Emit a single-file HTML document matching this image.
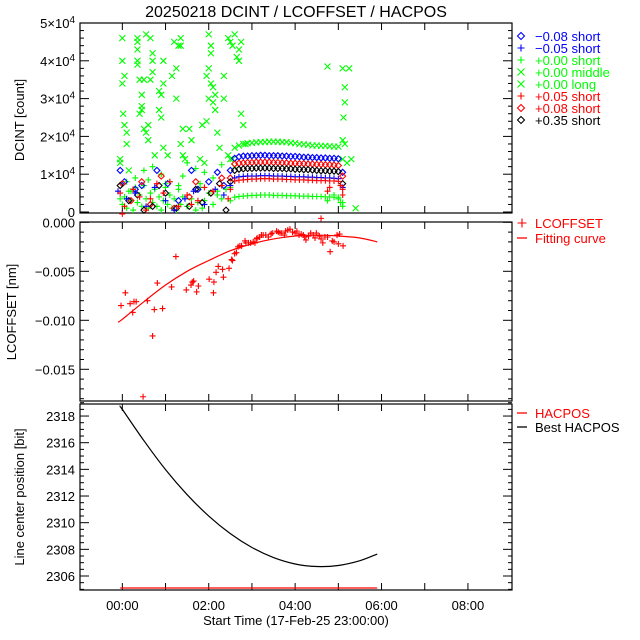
<!DOCTYPE html>
<html><head><meta charset="utf-8"><style>
body{margin:0;background:#fff}
svg{display:block;font-family:"Liberation Sans",sans-serif}
</style></head><body>
<svg id="chart" width="640" height="640" xmlns="http://www.w3.org/2000/svg">
<text x="296" y="17" font-size="16" text-anchor="middle">20250218 DCINT / LCOFFSET / HACPOS</text>
<text x="296" y="625" font-size="13" text-anchor="middle">Start Time (17-Feb-25 23:00:00)</text>
<text transform="translate(24,120) rotate(-90)" font-size="13" text-anchor="middle">DCINT [count]</text>
<text transform="translate(16,312) rotate(-90)" font-size="13" text-anchor="middle">LCOFFSET [nm]</text>
<text transform="translate(24,497) rotate(-90)" font-size="13" text-anchor="middle">Line center position [bit]</text>
</svg>
<script>
// ---------- data ----------
const xTickLabels = ["00:00","02:00","04:00","06:00","08:00"];
const xTickHours = [0,2,4,6,8];
const bandTimes = [2.5,2.6,2.7,2.8,2.9,3.0,3.1,3.2,3.3,3.4,3.5,3.6,3.7,3.8,3.9,4.0,4.1,4.2,4.3,4.4,4.5,4.6,4.7,4.8,4.9,5.0,5.1];
const greenTopBand = [14000,17000,17600,18000,18200,18300,18400,18500,18500,18600,18600,18600,18500,18500,18300,18200,18000,17900,17800,17600,17600,17500,17500,17400,17300,17300,14000];
const blueDiaBand = [11000,14200,14600,14800,14800,14900,14900,15000,15000,14900,14900,14900,14800,14800,14700,14700,14600,14500,14500,14400,14400,14300,14300,14200,14200,14100,10500];
const redDiaBand = [9000,12700,12900,13000,13100,13100,13200,13200,13200,13200,13100,13100,13000,13000,12900,12900,12800,12800,12700,12700,12600,12600,12500,12500,12400,12300,9500];
const blackDiaBand = [8000,11000,11300,11400,11500,11500,11600,11600,11600,11600,11500,11500,11500,11400,11400,11300,11300,11200,11200,11100,11000,10900,10900,10800,10800,10700,7500];
const bluePlusBand = [7000,9000,9300,9400,9500,9500,9500,9600,9600,9600,9500,9500,9500,9400,9400,9300,9300,9300,9200,9200,9100,9100,9000,9000,8900,8800,6500];
const redPlusBand = [6000,8200,8400,8500,8600,8700,8700,8800,8800,8800,8700,8700,8700,8600,8600,8500,8500,8500,8400,8400,8300,8300,8300,8200,8200,8100,6000];
const greenPlusBand = [3000,3900,4100,4200,4300,4400,4400,4500,4500,4500,4400,4400,4400,4300,4300,4300,4200,4200,4200,4100,4100,4100,4000,4000,3900,3900,2500];
const greenXTimes = [-0.05,-0.05,0.0,0.0,0.05,0.0,0.02,0.05,0.1,0.1,0.15,0.35,0.35,0.35,0.35,0.35,0.4,0.4,0.45,0.45,0.45,0.5,0.55,0.5,0.55,0.6,0.6,0.65,0.7,0.7,0.7,0.65,0.75,0.85,0.85,0.95,0.9,0.9,0.95,0.95,1.05,1.15,1.2,1.25,1.25,1.3,1.35,1.35,1.4,1.4,1.35,1.45,1.55,1.6,1.85,1.95,2.0,2.05,2.05,1.95,2.05,2.1,2.1,2.0,2.0,2.15,2.15,2.25,2.2,2.35,2.45,2.5,2.55,2.6,2.65,2.7,2.7,2.75,2.75,2.8,2.85,2.35,1.8,1.9,2.45,2.55,2.6,5.1,5.15,5.15,5.12,5.1,5.15,4.75,5.25,5.4,5.3,5.2];
const greenXValues = [14000,13000,40000,46000,36000,34000,26000,23000,21000,18000,11000,46000,45000,43000,40000,39000,35000,26000,28000,27000,31000,35000,47000,22000,21000,23000,19000,46000,42000,40000,37000,35000,15000,32000,27000,34000,31000,25000,40000,17000,15000,36000,45000,38000,30000,44000,46000,44000,22000,15000,18000,14000,22000,19000,23000,24000,47000,44000,42000,36000,34000,33000,29000,30000,38000,31000,27000,17000,21000,36000,46000,45000,44000,47000,41000,43000,40000,45000,26000,23000,18000,30000,14000,13000,15000,14000,12000,38000,33000,29000,25000,19000,18000,38500,38000,1000,14000,13000];
const greenLowTimes = [-0.05,0.0,0.05,0.1,0.15,0.2,0.25,0.3,0.35,0.4,0.45,0.5,0.55,0.6,0.65,0.7,0.75,0.8,0.85,0.9,0.95,1.0,1.05,1.1,1.15,1.2,1.25,1.3,1.35,1.4,1.5,1.6,1.7,1.75,1.8,1.85,1.9,2.0,2.1,2.2,2.3,2.4,0.1,0.3,0.5,0.7,0.9,1.1,1.3,1.5,1.7,1.9,2.1,2.3,2.5,0.2,0.6,1.0,1.4,1.8,2.2,4.75,5.05,5.1,5.0,4.9];
const greenLowValues = [3500,2000,4000,1000,5500,3000,500,6500,2500,4500,1500,7000,3500,1000,5000,2500,6000,1500,4000,500,3000,7500,2000,4500,1000,3500,500,6000,2000,4000,1500,3500,500,2500,6500,1000,3000,5000,2000,4500,3500,6000,8000,9000,11000,12000,10000,8000,7000,13000,11500,10500,9000,12500,6500,5500,8500,6500,9500,7500,5500,3000,2500,1500,3500,4500];
const blueDiaTimes = [-0.05,0.05,0.3,0.45,0.8,1.05,1.3,1.6,1.75,2.0,2.2,2.35];
const blueDiaValues = [11000,8000,6000,7000,11000,7500,3000,11000,6000,8000,10500,7000];
const redDiaTimes = [0.0,0.2,0.45,0.65,0.9,1.2,1.55,1.7,2.05,2.3];
const redDiaValues = [7500,3000,8000,2000,9500,1000,4000,8000,5000,9000];
const blackDiaTimes = [-0.05,0.15,0.35,0.5,0.7,0.85,1.0,1.25,1.55,1.7,1.85,2.05,2.25,2.4];
const blackDiaValues = [7000,3000,4500,500,1500,7000,5000,1000,1500,6000,2500,5000,7500,500];
const bluePlusTimes = [-0.1,0.1,0.3,0.55,0.75,1.0,1.2,1.45,1.65,1.9,2.15,2.35];
const bluePlusValues = [5500,3500,5000,1500,6500,3000,500,3500,5500,2000,6000,4500];
const redPlusTimes = [-0.05,0.0,0.05,0.25,0.4,0.55,0.65,0.8,0.95,1.1,1.3,1.5,1.6,1.75,1.9,2.1,2.3,2.45,4.75,4.8,5.05,5.1];
const redPlusValues = [5000,-500,1500,6000,4000,500,3500,7500,5000,8000,1500,4500,2000,3000,6500,5500,7000,3500,5500,6500,7000,4500];
const lcTimes = [-0.03,0.07,0.18,0.24,0.27,0.32,0.58,0.70,0.74,0.81,0.93,1.14,1.24,1.48,1.59,1.62,1.65,1.72,1.76,2.01,2.11,2.12,2.17,2.22,2.32,2.34,2.47,2.53,2.55,2.60,2.64,2.68,2.72,2.76,2.84,2.86,2.92,2.97,3.03,3.07,3.11,3.12,3.18,3.22,3.26,3.32,3.38,3.44,3.47,3.57,3.61,3.65,3.69,3.75,3.78,3.83,3.88,3.94,4.0,4.04,4.09,4.14,4.19,4.22,4.25,4.31,4.36,4.42,4.46,4.49,4.56,4.60,4.64,4.69,4.75,4.81,4.86,4.90,4.97,5.0,5.03,5.11,0.48,4.6];
const lcValues = [-0.0085,-0.0072,-0.0083,-0.0092,-0.0081,-0.0081,-0.0080,-0.0116,-0.0089,-0.0062,-0.0088,-0.0066,-0.0035,-0.0069,-0.0064,-0.0061,-0.0060,-0.0071,-0.0065,-0.0058,-0.0072,-0.0061,-0.0051,-0.0045,-0.0048,-0.0056,-0.0047,-0.0038,-0.0039,-0.0032,-0.0031,-0.0025,-0.0024,-0.0024,-0.0019,-0.0021,-0.0021,-0.0021,-0.0020,-0.0021,-0.0017,-0.0016,-0.0015,-0.0013,-0.0013,-0.0013,-0.0015,-0.0012,-0.0011,-0.0009,-0.0010,-0.0011,-0.0011,-0.0013,-0.0009,-0.0008,-0.0007,-0.0010,-0.0011,-0.0009,-0.0013,-0.0012,-0.0013,-0.0015,-0.0018,-0.0014,-0.0011,-0.0013,-0.0016,-0.0011,-0.0014,-0.0017,-0.0021,-0.0015,-0.0015,-0.0030,-0.0019,-0.0020,-0.0013,-0.0022,-0.0012,-0.0024,-0.0178,0.0004];
const fitTimes = [-0.1,0,0.5,1,1.5,2,2.5,3,3.5,4,4.5,5,5.5,5.9];
const fitValues = [-0.0102,-0.0099,-0.0081,-0.0064,-0.0050,-0.0039,-0.0029,-0.0022,-0.0017,-0.0014,-0.0013,-0.0014,-0.0016,-0.0020];
const hacTimes = [-0.05,0,0.5,1,1.5,2,2.5,3,3.5,4,4.5,5,5.5,5.9];
const bestHacValues = [2318.7,2318.5,2316.15,2313.98,2312.1,2310.5,2309.18,2308.14,2307.38,2306.9,2306.71,2306.79,2307.15,2307.65];
const hacposValue = [2305.1,2305.1];
const hacposTimes = [-0.05,5.9];

// ---------- axes ----------
const svg = document.getElementById('chart');
const NS = 'http://www.w3.org/2000/svg';
const X0 = 80, X1 = 512;
const xS = t => X0 + (t + 0.98) / 10 * (X1 - X0);
const P1 = {top:23, bot:213}, P2 = {top:222, bot:401}, P3 = {top:404, bot:590};
const y1 = v => 212 - v / 10000 * 37.8;
const y2 = v => 222.3 - v / 0.005 * 49;
const y3 = v => 576 - (v - 2306) * 13.33;

function mk(tag, attrs) { const e = document.createElementNS(NS, tag); for (const k in attrs) e.setAttribute(k, attrs[k]); svg.appendChild(e); return e; }

function frame(p, name) {
  const r = mk('rect', {x:X0, y:p.top, width:X1-X0, height:p.bot-p.top, fill:'none', stroke:'#000', 'stroke-width':1.2});
  
  
  for (let h = 0; h <= 8; h++) {
    const x = xS(h);
    const t1 = mk('line', {x1:x, x2:x, y1:p.bot, y2:p.bot-7, stroke:'#000'});
    
    
    const t2 = mk('line', {x1:x, x2:x, y1:p.top, y2:p.top+7, stroke:'#000'});
    
    
  }
}
function yticks(ys, vmin, vmax, step, major) {
  const n = Math.round((vmax - vmin) / step);
  for (let i = 0; i <= n; i++) {
    const v = vmin + i * step;
    const y = ys(v);
    const isMajor = Math.abs(v / major - Math.round(v / major)) < 1e-6;
    const L = isMajor ? 9 : 4;
    const a = mk('line', {x1:X0, x2:X0+L, y1:y, y2:y, stroke:'#000'});
    
    
    const b = mk('line', {x1:X1, x2:X1-L, y1:y, y2:y, stroke:'#000'});
    
    
  }
}
function label(x, y, txt, name, color, anchor) {
  const t = mk('text', {x:x, y:y, 'font-size':13, fill:color||'#000', 'text-anchor':anchor||'end'});
  t.textContent = txt;
  
  
  return t;
}
frame(P1, 'dcint-panel'); frame(P2, 'lcoffset-panel'); frame(P3, 'hacpos-panel');
yticks(y1, 0, 50000, 2000, 10000);
yticks(y2, -0.018, 0, 0.001, 0.005);
yticks(y3, 2305, 2319, 0.5, 2);

const dcTicks = [0,1,2,3,4,5];
dcTicks.forEach(k => {
  const y = y1(k * 10000) + 5;
  if (k === 0) { label(75, y, '0', 'dcint-tick-label'); return; }
  const t = label(75, y, '', 'dcint-tick-label');
  t.innerHTML = k + '×10<tspan dy="-5" font-size="10">4</tspan>';
});
const lcTicksLbl = ["0.000","−0.005","−0.010","−0.015"];
lcTicksLbl.forEach((s, i) => label(75, y2(-0.005 * i) + 5, s, 'lcoffset-tick-label'));
const hcTickVals = [2306,2308,2310,2312,2314,2316,2318];
hcTickVals.forEach(v => label(75, y3(v) + 5, String(v), 'hacpos-tick-label'));
xTickHours.forEach((h, i) => label(xS(h), 610, xTickLabels[i], 'x-tick-label', '#000', 'middle'));

// ---------- markers ----------
const BLUE = '#0000ff', RED = '#ff0000', GREEN = '#00ff00', BLACK = '#000';
function marker(kind, x, y, color, s) {
  s = s || 3;
  let d;
  if (kind === 'plus') d = `M${x-s} ${y}H${x+s}M${x} ${y-s}V${y+s}`;
  else if (kind === 'x') d = `M${x-s} ${y-s}L${x+s} ${y+s}M${x-s} ${y+s}L${x+s} ${y-s}`;
  else d = `M${x} ${y-s}L${x+s} ${y}L${x} ${y+s}L${x-s} ${y}Z`;
  return mk('path', {d:d, stroke:color, fill:'none', 'stroke-width':1.1});
}
function series(kind, ts, vs, ys, color, name) {
  ts.forEach((t, i) => {
    const m = marker(kind, xS(t), ys(vs[i]), color);
    
    
  });
}
series('x', greenXTimes, greenXValues, y1, GREEN, 'green-x-point');
series('plus', greenLowTimes, greenLowValues, y1, GREEN, 'green-plus-point');
series('x', bandTimes, greenTopBand, y1, GREEN, 'green-band-point');
series('plus', bandTimes, greenPlusBand, y1, GREEN, 'green-band-point');
series('diamond', bandTimes, blueDiaBand, y1, BLUE, 'blue-diamond-point');
series('diamond', bandTimes, redDiaBand, y1, RED, 'red-diamond-point');
series('diamond', bandTimes, blackDiaBand, y1, BLACK, 'black-diamond-point');
series('plus', bandTimes, bluePlusBand, y1, BLUE, 'blue-plus-point');
series('plus', bandTimes, redPlusBand, y1, RED, 'red-plus-point');
series('diamond', blueDiaTimes, blueDiaValues, y1, BLUE, 'blue-diamond-point');
series('diamond', redDiaTimes, redDiaValues, y1, RED, 'red-diamond-point');
series('diamond', blackDiaTimes, blackDiaValues, y1, BLACK, 'black-diamond-point');
series('plus', bluePlusTimes, bluePlusValues, y1, BLUE, 'blue-plus-point');
series('plus', redPlusTimes, redPlusValues, y1, RED, 'red-plus-point');
series('plus', lcTimes, lcValues, y2, RED, 'lcoffset-point');

// smooth curve (Catmull-Rom) through data points
function line(ts, vs, ys, color, name) {
  const pts = ts.map((t, i) => [xS(t), ys(vs[i])]);
  let d = `M${pts[0][0]} ${pts[0][1]}`;
  for (let i = 0; i < pts.length - 1; i++) {
    const p0 = pts[Math.max(0, i - 1)], p1 = pts[i], p2 = pts[i + 1], p3 = pts[Math.min(pts.length - 1, i + 2)];
    const c1 = [p1[0] + (p2[0] - p0[0]) / 6, p1[1] + (p2[1] - p0[1]) / 6];
    const c2 = [p2[0] - (p3[0] - p1[0]) / 6, p2[1] - (p3[1] - p1[1]) / 6];
    d += ` C${c1[0]} ${c1[1]} ${c2[0]} ${c2[1]} ${p2[0]} ${p2[1]}`;
  }
  const p = mk('path', {d:d, fill:'none', stroke:color, 'stroke-width':1.2});
  
  
}
line(fitTimes, fitValues, y2, RED, 'fitting-curve');
line(hacTimes, bestHacValues, y3, BLACK, 'best-hacpos-curve');
line(hacposTimes, hacposValue, y3, RED, 'hacpos-line');

// ---------- legends ----------
const legKinds = ['diamond','plus','plus','x','x','plus','diamond','diamond'];
const legColors = [BLUE,BLUE,GREEN,GREEN,GREEN,RED,RED,BLACK];
const legLabels = ['−0.08 short','−0.05 short','+0.00 short','+0.00 middle','+0.00 long','+0.05 short','+0.08 short','+0.35 short'];
legLabels.forEach((s, i) => {
  const y = 36 + i * 12;
  const m = marker(legKinds[i], 521, y, legColors[i], 3.5);
  
  
  label(535, y + 5, s, 'legend-entry', legColors[i], 'start');
});
const m1 = marker('plus', 522, 223, RED, 4.5);


label(535, 228, 'LCOFFSET', 'legend-entry', RED, 'start');
const legs = [[238, RED, 'Fitting curve'], [413, RED, 'HACPOS'], [427, BLACK, 'Best HACPOS']];
legs.forEach(l => {
  const d = mk('line', {x1:517, x2:527, y1:l[0], y2:l[0], stroke:l[1], 'stroke-width':1.3});
  
  
  label(535, l[0] + 5, l[2], 'legend-entry', l[1], 'start');
});
</script>
</body></html>
